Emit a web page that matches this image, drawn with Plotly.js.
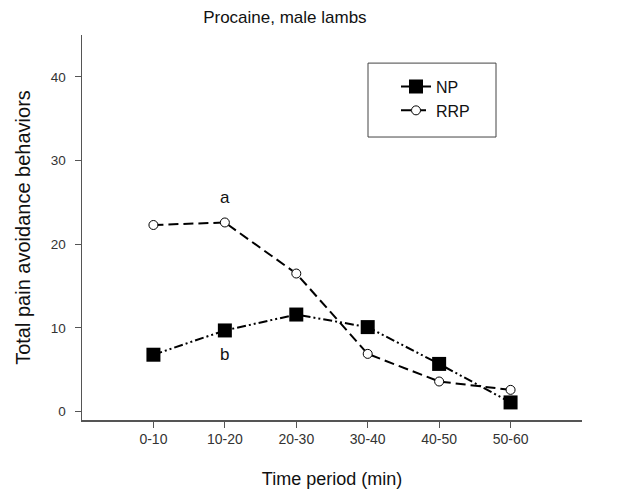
<!DOCTYPE html>
<html>
<head>
<meta charset="utf-8">
<script src="https://cdn.plot.ly/plotly-3.0.1.min.js"></script>
<style>html,body{margin:0;padding:0;background:#fff;}#chart{width:618px;height:497px;}</style>
</head>
<body>
<div id="chart"></div>
<script>
var periods = ["0-10", "10-20", "20-30", "30-40", "40-50", "50-60"];
var npValues = [6.8, 9.7, 11.6, 10.1, 5.7, 1.1];
var rrpValues = [22.3, 22.6, 16.5, 6.9, 3.6, 2.6];
var yTicks = [0, 10, 20, 30, 40];
var letters = [{label: "a", period: "10-20", value: 25.6}, {label: "b", period: "10-20", value: 6.8}];

var idx = periods.map(function(p, i){ return i; });

var traces = [
  {
    x: idx, y: npValues, name: "NP", type: "scatter", mode: "lines+markers",
    line: {color: "#000", width: 2, dash: "9px,3px,2px,3px,2px,3px"},
    marker: {symbol: "square", size: 14, color: "#000"}
  },
  {
    x: idx, y: rrpValues, name: "RRP", type: "scatter", mode: "lines+markers",
    line: {color: "#000", width: 2, dash: "10px,5px"},
    marker: {symbol: "circle", size: 9, color: "#fff", line: {color: "#000", width: 1}}
  }
];

var layout = {
  width: 618, height: 497,
  margin: {l: 82, r: 36, t: 35, b: 77},
  paper_bgcolor: "#fff", plot_bgcolor: "#fff",
  font: {family: "Liberation Sans, Arial, sans-serif", color: "#222"},
  title: {text: "Procaine, male lambs", font: {size: 17, color: "#111"}, x: 0.461, xanchor: "center", y: 0.965, yanchor: "middle"},
  showlegend: true,
  legend: {x: 0.628, y: 0.91, xanchor: "left", yanchor: "top", bgcolor: "rgba(0,0,0,0)", borderwidth: 0, font: {size: 16, color: "#111"}, tracegroupgap: 0},
  xaxis: {
    range: [-1, 6], tickmode: "array", tickvals: idx, ticktext: periods,
    showgrid: false, zeroline: false, showline: true, linecolor: "#555", linewidth: 1.5,
    ticks: "outside", ticklen: 6, tickcolor: "#555", tickfont: {size: 14, color: "#333"},
    title: {text: "Time period (min)", font: {size: 18, color: "#111"}, standoff: 26}
  },
  yaxis: {
    range: [-1, 45], tickmode: "array", tickvals: yTicks,
    showgrid: false, zeroline: false, showline: true, linecolor: "#555", linewidth: 1.5,
    ticks: "outside", ticklen: 6, tickcolor: "#555", tickfont: {size: 13.5, color: "#333"},
    ticklabelstandoff: 6,
    title: {text: "Total pain avoidance behaviors", font: {size: 20, color: "#111"}, standoff: 15}
  },
  shapes: [
    {type: "rect", xref: "paper", yref: "paper", x0: 0.572, x1: 0.828, y0: 0.735, y1: 0.927, line: {color: "#444", width: 1}, fillcolor: "rgba(0,0,0,0)"}
  ],
  annotations: letters.map(function(l){
    return {x: periods.indexOf(l.period), y: l.value, text: l.label, showarrow: false, font: {size: 17, color: "#111"}};
  })
};

Plotly.newPlot("chart", traces, layout, {staticPlot: true, displayModeBar: false});
</script>
</body>
</html>
